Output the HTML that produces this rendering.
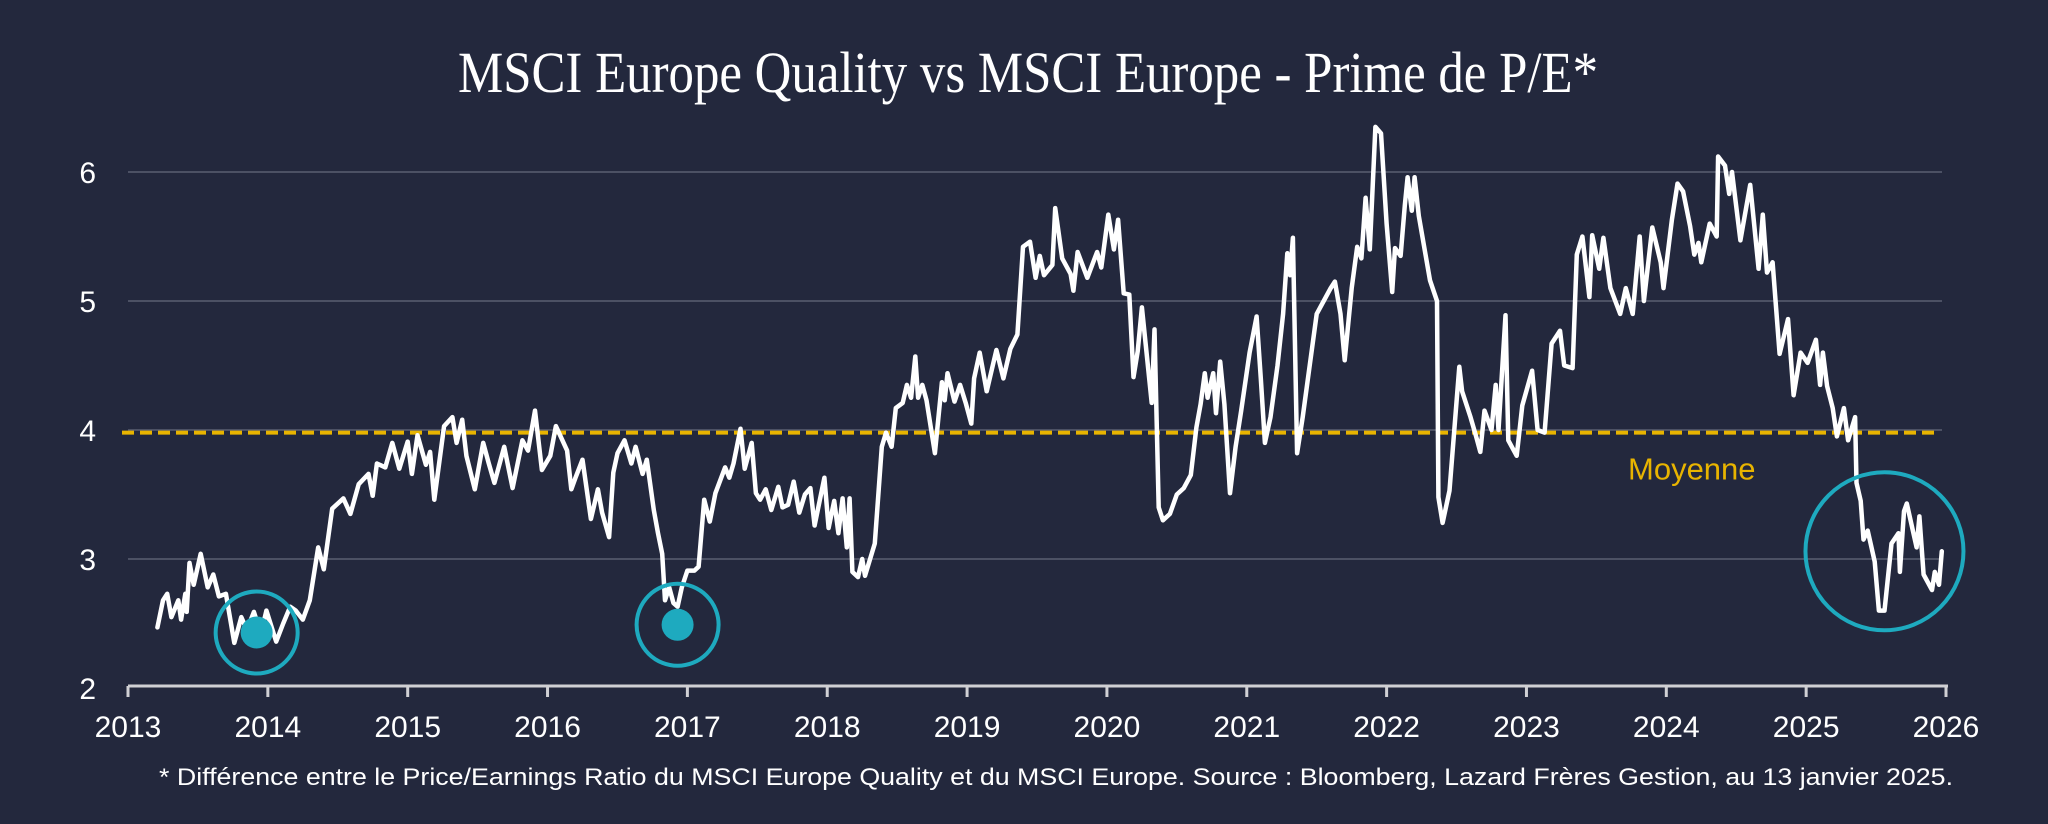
<!DOCTYPE html>
<html><head><meta charset="utf-8"><style>
html,body{margin:0;padding:0;background:#23283d;}
svg{display:block;}
</style></head><body>
<svg id="chart" width="2048" height="824" viewBox="0 0 2048 824" xmlns="http://www.w3.org/2000/svg">
<rect x="0" y="0" width="2048" height="824" fill="#23283d"/>
<text x="458" y="92" font-family="Liberation Serif, serif" font-size="58" fill="#ffffff" textLength="1140" lengthAdjust="spacingAndGlyphs">MSCI Europe Quality vs MSCI Europe - Prime de P/E*</text>
<g id="grid"></g>
<g id="yticks"></g>
<g id="xaxis"></g>
<g id="avg"></g>
<g id="series"></g>
<g id="ann"></g>
<text x="159" y="785" font-family="Liberation Sans, sans-serif" font-size="24" fill="#ffffff" textLength="1794" lengthAdjust="spacingAndGlyphs">* Différence entre le Price/Earnings Ratio du MSCI Europe Quality et du MSCI Europe. Source : Bloomberg, Lazard Frères Gestion, au 13 janvier 2025.</text>
</svg>
<script>
const yTicks = [2, 3, 4, 5, 6];
const xTicks = [2013,2014,2015,2016,2017,2018,2019,2020,2021,2022,2023,2024,2025,2026];
const averageValue = 3.98;
const averageLabel = "Moyenne";
const dates = [2013.21,2013.25,2013.28,2013.31,2013.36,2013.38,2013.41,2013.42,2013.44,2013.47,2013.52,2013.57,2013.61,2013.65,2013.70,2013.76,2013.81,2013.85,2013.90,2013.95,2013.99,2014.06,2014.11,2014.16,2014.20,2014.25,2014.30,2014.36,2014.40,2014.46,2014.54,2014.59,2014.65,2014.72,2014.75,2014.78,2014.84,2014.89,2014.94,2015.00,2015.03,2015.07,2015.13,2015.16,2015.19,2015.26,2015.32,2015.35,2015.39,2015.42,2015.48,2015.54,2015.58,2015.62,2015.69,2015.75,2015.82,2015.86,2015.91,2015.96,2016.02,2016.06,2016.14,2016.17,2016.20,2016.25,2016.31,2016.36,2016.39,2016.44,2016.47,2016.50,2016.55,2016.60,2016.63,2016.68,2016.71,2016.76,2016.79,2016.82,2016.84,2016.87,2016.90,2016.93,2016.96,2017.00,2017.05,2017.08,2017.12,2017.16,2017.20,2017.27,2017.30,2017.33,2017.38,2017.41,2017.46,2017.49,2017.52,2017.56,2017.60,2017.65,2017.68,2017.72,2017.76,2017.80,2017.84,2017.88,2017.91,2017.98,2018.01,2018.05,2018.08,2018.11,2018.14,2018.16,2018.18,2018.22,2018.25,2018.27,2018.34,2018.39,2018.42,2018.46,2018.49,2018.54,2018.57,2018.60,2018.63,2018.65,2018.68,2018.71,2018.77,2018.82,2018.84,2018.86,2018.91,2018.95,2018.99,2019.03,2019.05,2019.09,2019.14,2019.21,2019.26,2019.31,2019.36,2019.40,2019.45,2019.49,2019.52,2019.55,2019.61,2019.63,2019.68,2019.74,2019.76,2019.79,2019.86,2019.93,2019.96,2020.01,2020.05,2020.08,2020.12,2020.16,2020.19,2020.22,2020.25,2020.32,2020.34,2020.37,2020.40,2020.45,2020.50,2020.55,2020.60,2020.64,2020.67,2020.70,2020.72,2020.76,2020.78,2020.81,2020.84,2020.88,2020.92,2020.96,2021.02,2021.07,2021.10,2021.13,2021.17,2021.22,2021.26,2021.29,2021.31,2021.33,2021.36,2021.40,2021.45,2021.50,2021.55,2021.60,2021.63,2021.67,2021.70,2021.75,2021.79,2021.82,2021.85,2021.88,2021.92,2021.96,2022.00,2022.04,2022.06,2022.10,2022.13,2022.15,2022.18,2022.20,2022.23,2022.31,2022.36,2022.37,2022.40,2022.45,2022.52,2022.54,2022.60,2022.64,2022.67,2022.70,2022.75,2022.78,2022.80,2022.85,2022.87,2022.93,2022.97,2023.04,2023.08,2023.13,2023.18,2023.24,2023.27,2023.33,2023.36,2023.40,2023.45,2023.47,2023.52,2023.55,2023.60,2023.67,2023.71,2023.76,2023.81,2023.84,2023.90,2023.96,2023.98,2024.04,2024.08,2024.12,2024.17,2024.20,2024.23,2024.25,2024.31,2024.36,2024.37,2024.42,2024.45,2024.47,2024.53,2024.60,2024.66,2024.69,2024.72,2024.76,2024.81,2024.87,2024.91,2024.96,2025.01,2025.07,2025.10,2025.12,2025.15,2025.19,2025.22,2025.27,2025.30,2025.35,2025.36,2025.39,2025.41,2025.44,2025.49,2025.52,2025.56,2025.61,2025.66,2025.67,2025.70,2025.72,2025.79,2025.81,2025.84,2025.90,2025.92,2025.95,2025.97];
const premium = [2.47,2.68,2.73,2.55,2.68,2.53,2.73,2.59,2.97,2.80,3.04,2.78,2.88,2.71,2.73,2.35,2.55,2.45,2.59,2.42,2.60,2.36,2.50,2.63,2.60,2.53,2.68,3.09,2.92,3.39,3.47,3.35,3.58,3.66,3.49,3.74,3.71,3.90,3.70,3.91,3.66,3.96,3.73,3.83,3.46,4.03,4.10,3.90,4.08,3.80,3.54,3.90,3.74,3.59,3.87,3.55,3.92,3.84,4.15,3.69,3.80,4.03,3.84,3.54,3.63,3.77,3.31,3.54,3.36,3.17,3.67,3.82,3.92,3.74,3.87,3.66,3.77,3.38,3.20,3.04,2.68,2.78,2.66,2.63,2.78,2.91,2.91,2.94,3.46,3.29,3.51,3.71,3.63,3.74,4.01,3.70,3.90,3.51,3.46,3.54,3.38,3.56,3.40,3.42,3.60,3.36,3.50,3.55,3.26,3.63,3.24,3.45,3.20,3.47,3.09,3.47,2.90,2.86,3.00,2.87,3.12,3.87,3.98,3.87,4.17,4.21,4.35,4.25,4.57,4.25,4.35,4.23,3.82,4.37,4.23,4.44,4.22,4.35,4.21,4.05,4.40,4.60,4.30,4.62,4.40,4.63,4.74,5.42,5.46,5.18,5.35,5.20,5.28,5.72,5.33,5.21,5.08,5.38,5.18,5.38,5.26,5.67,5.40,5.63,5.06,5.05,4.41,4.61,4.95,4.21,4.78,3.40,3.30,3.35,3.50,3.55,3.65,4.02,4.20,4.44,4.25,4.44,4.13,4.53,4.20,3.51,3.87,4.15,4.60,4.88,4.40,3.90,4.10,4.50,4.90,5.37,5.20,5.49,3.82,4.10,4.50,4.90,5.00,5.10,5.15,4.90,4.54,5.10,5.42,5.33,5.80,5.40,6.35,6.30,5.60,5.07,5.41,5.35,5.74,5.96,5.70,5.96,5.66,5.16,5.00,3.48,3.28,3.53,4.49,4.30,4.10,3.95,3.83,4.15,4.00,4.35,4.00,4.89,3.92,3.80,4.19,4.46,4.00,3.98,4.67,4.77,4.50,4.48,5.36,5.50,5.03,5.51,5.25,5.49,5.10,4.90,5.10,4.90,5.50,5.00,5.57,5.30,5.10,5.63,5.91,5.85,5.58,5.36,5.45,5.30,5.60,5.50,6.12,6.05,5.83,6.00,5.47,5.90,5.25,5.67,5.22,5.30,4.59,4.86,4.27,4.60,4.52,4.70,4.35,4.60,4.34,4.17,3.95,4.17,3.92,4.10,3.59,3.45,3.15,3.22,2.98,2.60,2.60,3.12,3.20,2.90,3.37,3.43,3.09,3.33,2.88,2.76,2.90,2.80,3.06];
const circleYears = [2013.92, 2016.93, 2025.56];
const circleValues = [2.43, 2.49, 3.06];

const NS = "http://www.w3.org/2000/svg";
const X0 = 128, X1 = 1946, Y2 = 688, PX = 129;
function xs(t){ return X0 + (t - 2013) * (X1 - X0) / 13; }
function ys(v){ return Y2 - (v - 2) * PX; }
function mk(tag, attrs, parent){ const e = document.createElementNS(NS, tag); for (const k in attrs) e.setAttribute(k, attrs[k]); parent.appendChild(e); return e; }

const grid = document.getElementById('grid');
const yt = document.getElementById('yticks');
yTicks.forEach(v => {
  if (v > 2) {
    const l = mk('line', {x1: X0, x2: 1942, y1: ys(v), y2: ys(v), stroke: '#5b5f72', 'stroke-width': 1.5}, grid);
    
    
  }
  const t = mk('text', {x: 96, y: ys(v) + 11, 'text-anchor': 'end', 'font-family': 'Liberation Sans, sans-serif', 'font-size': 30, fill: '#ffffff'}, yt);
  t.textContent = v;
  
  
});

const xa = document.getElementById('xaxis');
const axl = mk('line', {x1: X0, x2: 1948, y1: Y2 - 2, y2: Y2 - 2, stroke: '#d0d0d4', 'stroke-width': 3}, xa);


xTicks.forEach(yr => {
  const tk = mk('line', {x1: xs(yr), x2: xs(yr), y1: Y2 - 2, y2: Y2 + 9, stroke: '#d0d0d4', 'stroke-width': 3}, xa);
  
  
  const t = mk('text', {x: xs(yr), y: 737, 'text-anchor': 'middle', 'font-family': 'Liberation Sans, sans-serif', 'font-size': 30, fill: '#ffffff'}, xa);
  t.textContent = yr;
  
  
});

const avg = document.getElementById('avg');
const al = mk('line', {x1: 122, x2: 1934, y1: ys(averageValue), y2: ys(averageValue), stroke: '#e8b400', 'stroke-width': 4, 'stroke-dasharray': '12 6'}, avg);


const at = mk('text', {x: 1628, y: ys(averageValue) + 47, 'font-family': 'Liberation Sans, sans-serif', 'font-size': 31, fill: '#e8b400'}, avg);
at.textContent = averageLabel;



const ser = document.getElementById('series');
let d = '';
dates.forEach((t, i) => { d += (i ? 'L' : 'M') + xs(t).toFixed(1) + ',' + ys(premium[i]).toFixed(1); });
const p = mk('path', {d: d, fill: 'none', stroke: '#ffffff', 'stroke-width': 4.5, 'stroke-linejoin': 'round', 'stroke-linecap': 'round'}, ser);



const ann = document.getElementById('ann');
circleYears.forEach((t, i) => {
  const big = i === 2;
  const c = mk('circle', {cx: xs(t), cy: ys(circleValues[i]), r: big ? 79 : 41, fill: 'none', stroke: '#1eaabf', 'stroke-width': 4}, ann);
  
  
  if (!big) {
    const dot = mk('circle', {cx: xs(t), cy: ys(circleValues[i]), r: 16, fill: '#1eaabf'}, ann);
    
    
  }
});
</script>
</body></html>
